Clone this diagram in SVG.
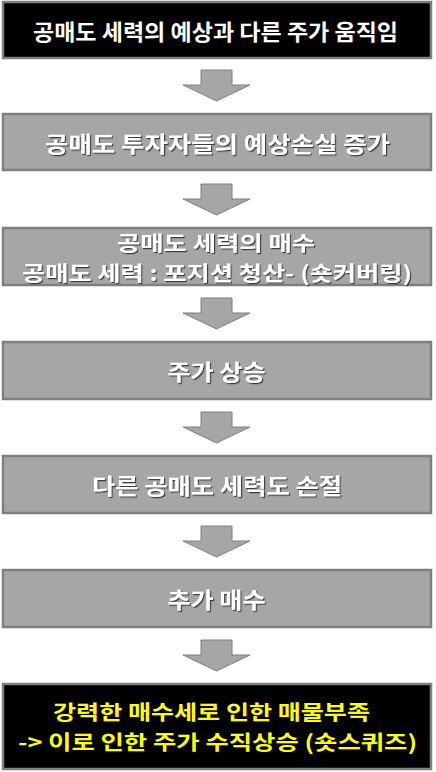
<svg xmlns="http://www.w3.org/2000/svg" width="436" height="772" viewBox="0 0 436 772">
<defs>
<style>
.box{fill:#a6a6a6;stroke:#7f7f7f;stroke-width:2.5}
.dark{fill:#000000;stroke:#7f7f7f;stroke-width:2.5}
.t{font-family:"Noto Sans CJK KR","Noto Sans",sans-serif;font-weight:bold;font-size:22px;text-anchor:middle;dominant-baseline:central}
.t2{font-size:20.5px}
.w{fill:#ffffff}
.sh{fill:#ffffff;filter:url(#shadow)}
.y{fill:#ffff00}
.arrow{fill:#a6a6a6;stroke:#7f7f7f;stroke-width:1}
</style>
<filter id="shadow" x="-5%" y="-20%" width="110%" height="140%">
<feDropShadow dx="1.2" dy="1.2" stdDeviation="0.7" flood-color="#333333" flood-opacity="0.9"/>
</filter>
<path id="arr" d="M-15.5,0 H15.5 V15 H33.5 L0,31 L-33.5,15 H-15.5 Z"/>
</defs>
<rect width="436" height="772" fill="#ffffff"/>
<g id="connectors">
<use href="#arr" class="arrow" x="216.5" y="70"/>
<use href="#arr" class="arrow" x="216.5" y="184"/>
<use href="#arr" class="arrow" x="216.5" y="298"/>
<use href="#arr" class="arrow" x="216.5" y="412"/>
<use href="#arr" class="arrow" x="216.5" y="526"/>
<use href="#arr" class="arrow" x="216.5" y="640"/>
</g>
<g id="n1"><rect class="dark" x="3" y="2" width="428" height="56"/><text class="t w" x="215.5" y="30" textLength="365" lengthAdjust="spacingAndGlyphs">공매도 세력의 예상과 다른 주가 움직임</text></g>
<g id="n2"><rect class="box" x="3" y="114" width="428" height="56"/><text class="t sh" x="217.5" y="142" textLength="345" lengthAdjust="spacingAndGlyphs">공매도 투자자들의 예상손실 증가</text></g>
<g id="n3"><rect class="box" x="3" y="228" width="428" height="57"/><text class="t t2 sh" x="216" y="242" textLength="198" lengthAdjust="spacingAndGlyphs">공매도 세력의 매수</text><text class="t t2 sh" x="217" y="272" textLength="390" lengthAdjust="spacingAndGlyphs">공매도 세력 : 포지션 청산- (숏커버링)</text></g>
<g id="n4"><rect class="box" x="3" y="342" width="428" height="57"/><text class="t sh" x="216.5" y="370" textLength="98" lengthAdjust="spacingAndGlyphs">주가 상승</text></g>
<g id="n5"><rect class="box" x="3" y="456" width="428" height="57"/><text class="t sh" x="217" y="484" textLength="250" lengthAdjust="spacingAndGlyphs">다른 공매도 세력도 손절</text></g>
<g id="n6"><rect class="box" x="3" y="570" width="428" height="57"/><text class="t sh" x="216.5" y="598" textLength="98" lengthAdjust="spacingAndGlyphs">추가 매수</text></g>
<g id="n7"><rect class="dark" x="3" y="684" width="428" height="85"/><text class="t t2 y" x="211.5" y="711" textLength="317" lengthAdjust="spacingAndGlyphs">강력한 매수세로 인한 매물부족</text><text class="t t2 y" x="217.5" y="741" textLength="399" lengthAdjust="spacingAndGlyphs">-&gt; 이로 인한 주가 수직상승 (숏스퀴즈)</text></g>
</svg>
